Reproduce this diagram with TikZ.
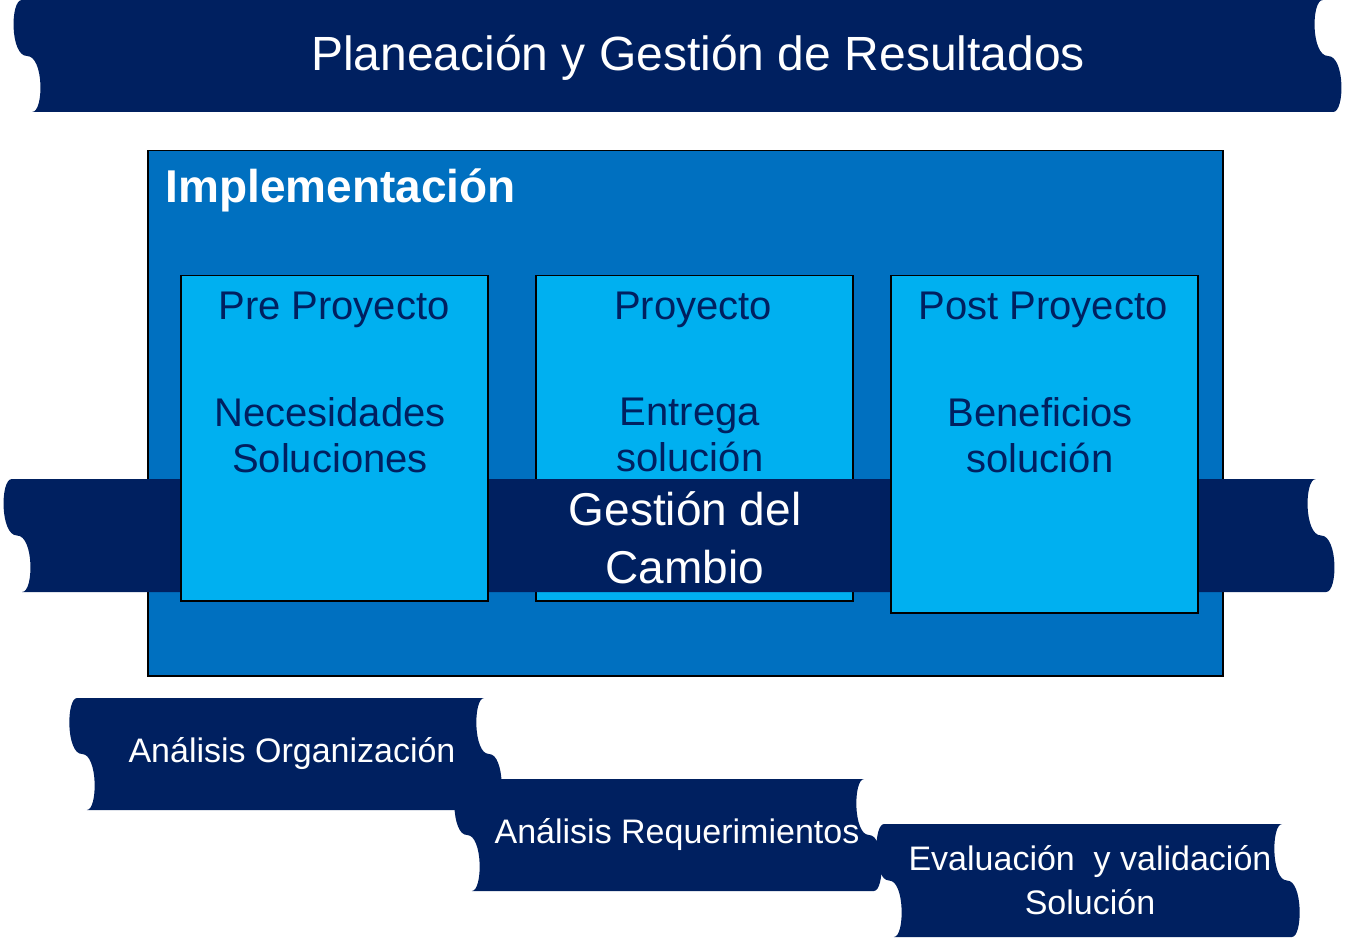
\documentclass[tikz,border=0pt]{standalone}
\usepackage{fontspec}
\setmainfont{Liberation Sans}
\definecolor{navy}{RGB}{0,32,96}
\definecolor{midblue}{RGB}{0,112,192}
\definecolor{lightblue}{RGB}{0,176,240}
\newcommand{\banner}[5]{% L R T B s
  \fill[navy] ({#1+0.7*#5},#3) -- ({#2-1.3*#5},#3)
   .. controls ({#2-2*#5},#3) and ({#2-2*#5},{#3+0.5*(#4-#3)}) .. ({#2-#5},{#3+0.5*(#4-#3)})
   .. controls (#2,{#3+0.5*(#4-#3)}) and (#2,#4) .. ({#2-0.7*#5},#4)
   -- ({#1+1.3*#5},#4)
   .. controls ({#1+2*#5},#4) and ({#1+2*#5},{#3+0.5*(#4-#3)}) .. ({#1+#5},{#3+0.5*(#4-#3)})
   .. controls (#1,{#3+0.5*(#4-#3)}) and (#1,#3) .. ({#1+0.7*#5},#3) -- cycle;}
\tikzset{
  phasebox/.style={draw=black, line width=1.5pt, fill=lightblue, anchor=north west, inner sep=0pt},
  boxtext/.style={text=navy, font=\fontsize{40}{46}\selectfont, align=center},
  wtext/.style={text=white, align=center}
}
\begin{document}
\begin{tikzpicture}[x=1pt,y=-1pt]
\useasboundingbox (0,0) rectangle (1347,949);
\banner{10}{1345}{0}{112}{17}
\node[wtext, font=\fontsize{48}{54}\selectfont] (title) at (698,58) {Planeación y Gestión de Resultados};
\node[draw=black, line width=1.5pt, fill=midblue, anchor=north west, minimum width=1075pt, minimum height=525pt, inner sep=0pt] (impl) at (147,150) {};
\node[wtext, font=\bfseries\fontsize{46}{52}\selectfont, anchor=west] (implt) at (162,190) {Implementación};
\node[phasebox, minimum width=317pt, minimum height=325pt] (proy) at (535,275) {};
\banner{0}{1338}{479}{592}{17}
\node[phasebox, minimum width=307pt, minimum height=325pt] (pre) at (180,275) {};
\node[phasebox, minimum width=307pt, minimum height=337pt] (post) at (890,275) {};
\node[boxtext] (pret) at (334,310) {Pre Proyecto};
\node[boxtext] (pret2) at (330,435) {Necesidades\\ Soluciones};
\node[boxtext] (proyt) at (693,310) {Proyecto};
\node[boxtext] (proyt2) at (690,435) {Entrega\\ solución};
\node[boxtext] (postt) at (1043,310) {Post Proyecto};
\node[boxtext] (postt2) at (1040,435) {Beneficios\\ solución};
\node[wtext, font=\fontsize{46}{58}\selectfont] (gc) at (685,538) {Gestión del\\ Cambio};
\banner{66}{505}{698}{810}{16}
\banner{451}{885}{779}{891}{16}
\banner{873}{1303}{824}{937}{16}
\node[wtext, font=\fontsize{34}{44}\selectfont] (ao) at (292,754) {Análisis Organización};
\node[wtext, font=\fontsize{34}{44}\selectfont] (ar) at (677,835) {Análisis Requerimientos};
\node[wtext, font=\fontsize{34}{44}\selectfont] (ev) at (1090,880) {Evaluación\ \ y validación\\ Solución};
\end{tikzpicture}
\end{document}
